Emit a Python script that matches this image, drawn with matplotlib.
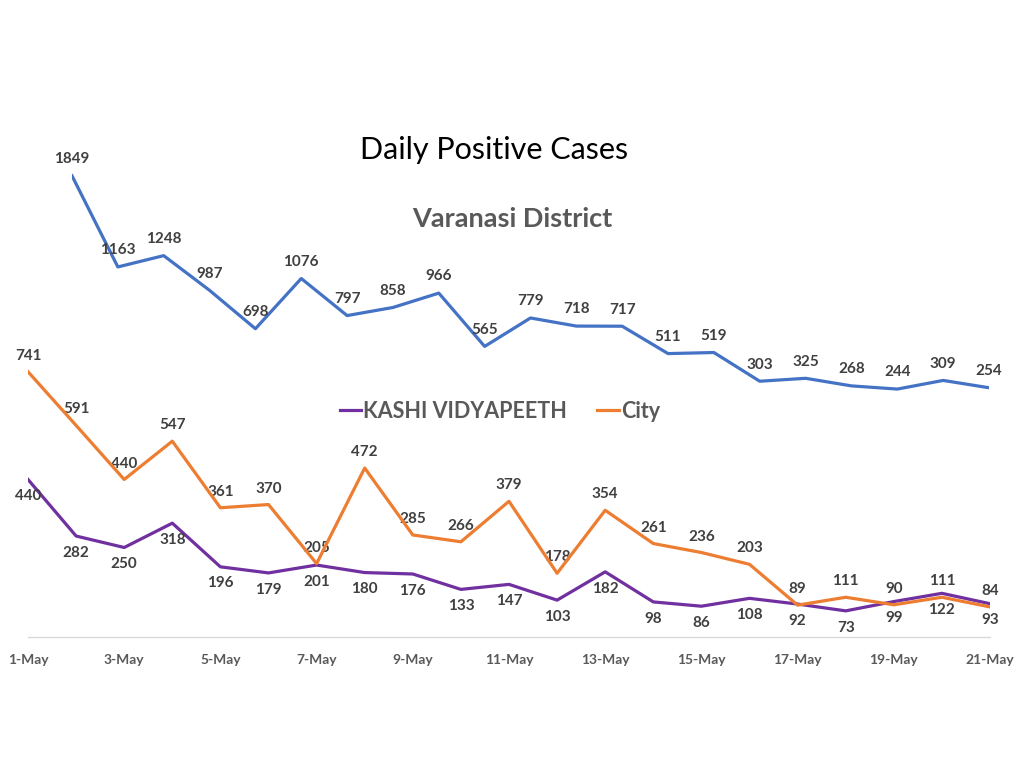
import matplotlib
matplotlib.use("Agg")
import matplotlib.pyplot as plt
from matplotlib.lines import Line2D

plt.rcParams['font.family'] = ['Lato', 'DejaVu Sans']

days = list(range(1, 22))
date_labels = [f"{d}-May" for d in days]
district = [1849, 1163, 1248, 987, 698, 1076, 797, 858, 966, 565, 779, 718, 717,
            511, 519, 303, 325, 268, 244, 309, 254]
city = [741, 591, 440, 547, 361, 370, 205, 472, 285, 266, 379, 178, 354, 261,
        236, 203, 89, 111, 90, 111, 84]
kashi = [440, 282, 250, 318, 196, 179, 201, 180, 176, 133, 147, 103, 182, 98,
         86, 108, 92, 73, 99, 122, 93]

BLUE = '#4472C4'
ORANGE = '#ED7D31'
PURPLE = '#7030A0'
LABEL = '#404040'
GRAY = '#595959'

W, H = 1024, 765
fig = plt.figure(figsize=(W / 100, H / 100), dpi=100)
fig.patch.set_facecolor('white')

def px_axes(x0, x1, ybot, ytop):
    return fig.add_axes([x0 / W, (H - ybot) / H, (x1 - x0) / W, (ybot - ytop) / H])

# main axes (city / kashi)
ax = px_axes(28, 990, 637, 350.6)
x = list(range(len(days)))
ax.plot(x, kashi, color=PURPLE, lw=2.3, solid_joinstyle='round', zorder=3)
ax.plot(x, city, color=ORANGE, lw=2.3, solid_joinstyle='round', zorder=4)
ax.set_xlim(0, len(days) - 1)
ax.set_ylim(0, 800)
for s in ['top', 'right', 'left']:
    ax.spines[s].set_visible(False)
ax.spines['bottom'].set_color('#D9D9D9')
ax.spines['bottom'].set_linewidth(1)
ax.set_yticks([])
ax.set_xticks(x[::2])
ax.set_xticklabels(date_labels[::2], fontsize=10, color=GRAY, fontweight='bold')
ax.tick_params(axis='x', length=0, pad=12)
ax.patch.set_alpha(0)

for xi, v in zip(x, city):
    ax.annotate(str(v), (xi, v), xytext=(0, 11.5), textcoords='offset points',
                ha='center', va='center', fontsize=11, fontweight='bold', color=LABEL)
for xi, v in zip(x, kashi):
    ax.annotate(str(v), (xi, v), xytext=(0, -12), textcoords='offset points',
                ha='center', va='center', fontsize=11, fontweight='bold', color=LABEL)

# district axes
ax2 = px_axes(72, 989, 421.5, 155.7)
ax2.plot(x, district, color=BLUE, lw=2.3, solid_joinstyle='round')
ax2.set_xlim(0, len(days) - 1)
ax2.set_ylim(0, 2000)
ax2.axis('off')
for xi, v in zip(x, district):
    ax2.annotate(str(v), (xi, v), xytext=(0, 12), textcoords='offset points',
                 ha='center', va='center', fontsize=11, fontweight='bold', color=LABEL)

fig.text(494 / W, 1 - 150 / H, 'Daily Positive Cases', ha='center', va='center',
         fontsize=22, color='black')
fig.text(512 / W, 1 - 219 / H, 'Varanasi District', ha='center', va='center',
         fontsize=19.5, fontweight='bold', color=GRAY)

handles = [Line2D([], [], color=PURPLE, lw=2.3), Line2D([], [], color=ORANGE, lw=2.3)]
fig.legend(handles, ['KASHI VIDYAPEETH', 'City'], loc='center',
           bbox_to_anchor=(500 / W, 1 - 411 / H), ncol=2, frameon=False,
           prop={'size': 15.5, 'weight': 'bold'}, labelcolor=GRAY,
           handlelength=1.0, handletextpad=0.1, columnspacing=1.4)

fig.savefig('out.png', dpi=100, facecolor='white')
